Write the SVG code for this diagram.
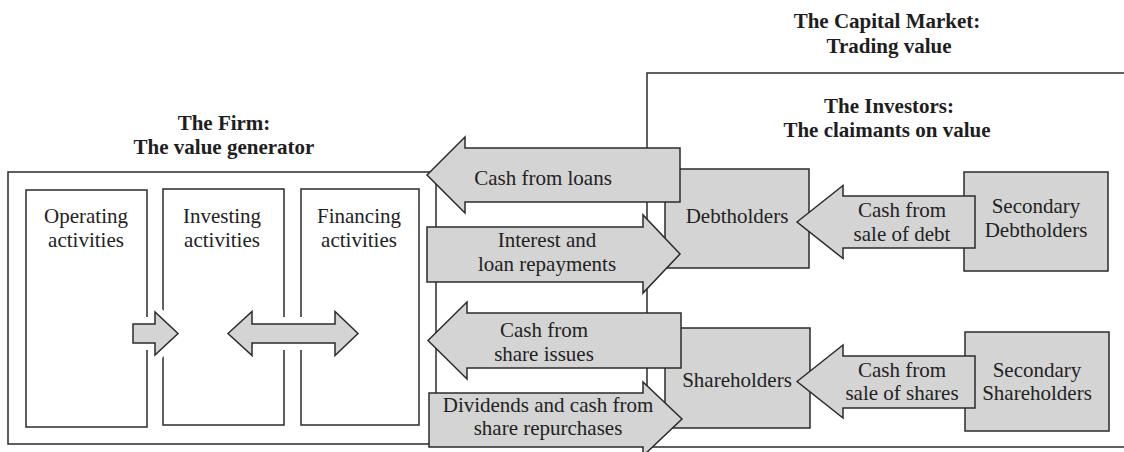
<svg xmlns="http://www.w3.org/2000/svg" width="1124" height="452" viewBox="0 0 1124 452">
  <style>
    .frame { fill: #ffffff; stroke: #2b2b2b; stroke-width: 1.5; }
    .box { fill: #d4d4d4; stroke: #2b2b2b; stroke-width: 1.5; }
    .arrow { fill: #d4d4d4; stroke: #2b2b2b; stroke-width: 1.5; stroke-linejoin: miter; }
    .halo { fill: #ffffff; stroke: #ffffff; stroke-width: 14; stroke-linejoin: round; }
    .title { font-family: "Liberation Serif", "Times New Roman", serif; font-size: 21px; font-weight: bold; fill: #1e1e1e; text-anchor: middle; }
    .lbl { font-family: "Liberation Serif", "Times New Roman", serif; font-size: 21px; fill: #222222; text-anchor: middle; }
  </style>

  <!-- Titles -->
  <g id="title-market">
    <text class="title" x="887" y="28">The Capital Market:</text>
    <text class="title" x="889" y="53">Trading value</text>
  </g>
  <g id="title-firm">
    <text class="title" x="224" y="130">The Firm:</text>
    <text class="title" x="224" y="154">The value generator</text>
  </g>

  <!-- The firm and its three activity columns -->
  <g id="firm">
    <rect class="frame" x="8" y="172" width="428" height="272"/>
    <rect class="frame" x="26" y="190" width="121" height="237"/>
    <rect class="frame" x="163" y="189" width="121" height="236"/>
    <rect class="frame" x="301" y="189" width="118" height="236"/>
    <text class="lbl" x="86" y="223">Operating</text>
    <text class="lbl" x="86" y="247">activities</text>
    <text class="lbl" x="222" y="223">Investing</text>
    <text class="lbl" x="222" y="247">activities</text>
    <text class="lbl" x="359" y="223">Financing</text>
    <text class="lbl" x="359" y="247">activities</text>
  </g>

  <!-- The capital market frame -->
  <g id="market">
    <rect class="frame" x="647" y="73" width="490" height="374"/>
    <text class="title" x="889" y="113">The Investors:</text>
    <text class="title" x="887" y="137">The claimants on value</text>
  </g>

  <g id="debtholders">
    <rect class="box" x="665" y="169" width="144" height="99"/>
    <text class="lbl" x="737" y="223">Debtholders</text>
  </g>
  <g id="shareholders">
    <rect class="box" x="665" y="328" width="145" height="100"/>
    <text class="lbl" x="737" y="387">Shareholders</text>
  </g>
  <g id="secondary-debtholders">
    <rect class="box" x="964" y="172" width="144" height="99"/>
    <text class="lbl" x="1036" y="213">Secondary</text>
    <text class="lbl" x="1036" y="237">Debtholders</text>
  </g>
  <g id="secondary-shareholders">
    <rect class="box" x="965" y="332" width="144" height="99"/>
    <text class="lbl" x="1037" y="377">Secondary</text>
    <text class="lbl" x="1037" y="400">Shareholders</text>
  </g>

  <!-- Cash flows -->
  <g id="connectors">
    <!-- operating -> investing -->
    <polygon class="halo" points="133,324 155,324 155,312 178,333.5 155,355 155,343 133,343"/>
    <polygon class="arrow" points="133,324 155,324 155,312 178,333.5 155,355 155,343 133,343"/>
    <!-- investing <-> financing -->
    <polygon class="halo" points="228,333.5 252,311.5 252,324 335,324 335,311.5 358,333.5 335,355.5 335,343 252,343 252,355.5"/>
    <polygon class="arrow" points="228,333.5 252,311.5 252,324 335,324 335,311.5 358,333.5 335,355.5 335,343 252,343 252,355.5"/>

    <!-- firm <-> debtholders -->
    <polygon class="arrow" points="427,175 465,137 465,148 680,148 680,202 465,202 465,213"/>
    <text class="lbl" x="543" y="185">Cash from loans</text>
    <polygon class="arrow" points="427,227 643,227 643,215 680,254 643,293 643,282 427,282"/>
    <text class="lbl" x="547" y="247">Interest and</text>
    <text class="lbl" x="547" y="271">loan repayments</text>

    <!-- firm <-> shareholders -->
    <polygon class="arrow" points="428,340.5 467,302 467,313 681,313 681,368 467,368 467,379"/>
    <text class="lbl" x="544" y="337">Cash from</text>
    <text class="lbl" x="544" y="361">share issues</text>
    <polygon class="arrow" points="429,393 643,393 643,382 682,419 643,456 643,447 429,447"/>
    <text class="lbl" x="548" y="412">Dividends and cash from</text>
    <text class="lbl" x="548" y="435">share repurchases</text>

    <!-- secondary market trades -->
    <polygon class="arrow" points="797,222 843,185.5 843,196 975,196 975,248 843,248 843,258.5"/>
    <text class="lbl" x="902" y="217">Cash from</text>
    <text class="lbl" x="902" y="241">sale of debt</text>
    <polygon class="arrow" points="797,381.5 843,345 843,356 975,356 975,408 843,408 843,418"/>
    <text class="lbl" x="902" y="377">Cash from</text>
    <text class="lbl" x="902" y="400">sale of shares</text>
  </g>
</svg>
